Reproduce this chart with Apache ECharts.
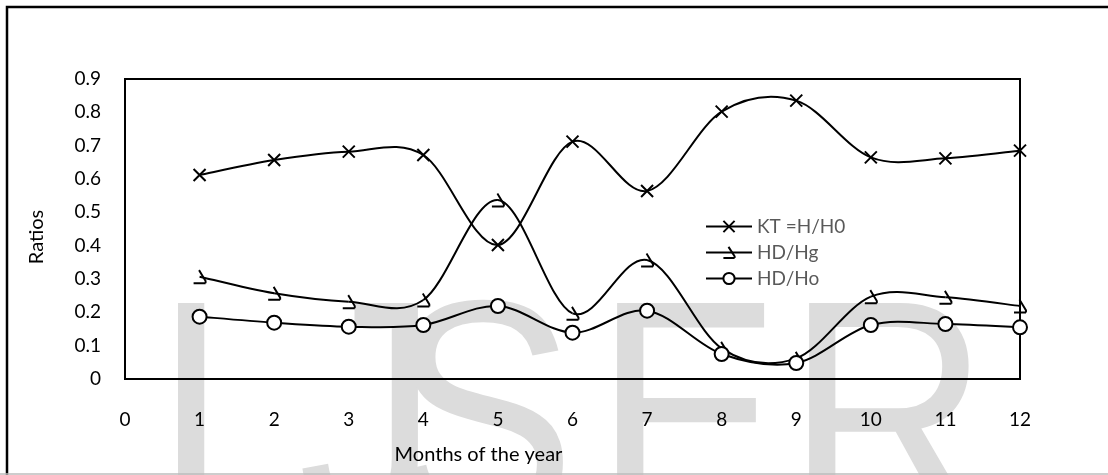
<!DOCTYPE html>
<html>
<head>
<meta charset="utf-8">
<script src="https://cdn.jsdelivr.net/npm/echarts@6/dist/echarts.min.js"></script>
<style>
html,body{margin:0;padding:0;background:#fff;}
#chart{width:1108px;height:475px;}
</style>
</head>
<body>
<div id="chart"></div>
<script>
// ---- data ----
const months = [1, 2, 3, 4, 5, 6, 7, 8, 9, 10, 11, 12];
const ktValues   = [0.612, 0.657, 0.682, 0.672, 0.402, 0.712, 0.564, 0.802, 0.835, 0.665, 0.662, 0.685];
const hdHgValues = [0.307, 0.257, 0.232, 0.237, 0.537, 0.197, 0.357, 0.092, 0.062, 0.247, 0.245, 0.219];
const hdHoValues = [0.187, 0.169, 0.157, 0.162, 0.219, 0.139, 0.205, 0.075, 0.048, 0.162, 0.165, 0.155];
const seriesNames = ['KT =H/H0', 'HD/Hg', 'HD/Ho'];
const xTickLabels = ['0','1','2','3','4','5','6','7','8','9','10','11','12'];
const yTickLabels = ['0','0.1','0.2','0.3','0.4','0.5','0.6','0.7','0.8','0.9'];
const xAxisTitle = 'Months of the year';
const yAxisTitle = 'Ratios';
const watermarkLetters = ['I','J','S','E','R'];

function pairs(vals){ return months.map((m,i)=>[m, vals[i]]); }

const FONT = 'Lato';
const chart = echarts.init(document.getElementById('chart'), null, {renderer:'canvas'});

const crossPath = 'path://M0,0L10,10M10,0L0,10';
const hookPath = 'path://M5,0L11,10L11,12M0,12L11,12';

// Smooth curve (Excel-like cardinal spline) drawn segment by segment through the axis scales
function curveSeries(vals){
  return {
    type:'custom', z:1, silent:true, clip:false,
    data: pairs(vals),
    encode:{x:0, y:1},
    renderItem: function(params, api){
      const i = params.dataIndex, n = vals.length;
      if (i >= n - 1) return null;
      const c = (k)=>{ k = Math.max(0, Math.min(n-1, k)); return api.coord([months[k], vals[k]]); };
      const p0 = c(i-1), p1 = c(i), p2 = c(i+1), p3 = c(i+2);
      const t = 1/6;
      return {
        type:'bezierCurve',
        shape:{
          x1:p1[0], y1:p1[1], x2:p2[0], y2:p2[1],
          cpx1:p1[0] + (p2[0]-p0[0])*t, cpy1:p1[1] + (p2[1]-p0[1])*t,
          cpx2:p2[0] - (p3[0]-p1[0])*t, cpy2:p2[1] - (p3[1]-p1[1])*t
        },
        style:{stroke:'#000', lineWidth:2, fill:null}
      };
    }
  };
}

const wmX = [152, 298, 388, 594, 786];
const wmGraphics = watermarkLetters.map((ch, k)=>({
  type:'text', x:wmX[k], y:275, scaleX:0.88, z:-10, silent:true,
  style:{text:ch, fontFamily:'Liberation Sans', fontSize:320, fill:'#dcdcdc', verticalAlign:'top'}
}));

const option = {
  backgroundColor: '#ffffff',
  animation: false,
  textStyle: {fontFamily: FONT},
  graphic: wmGraphics.concat([
    {type:'rect', shape:{x:7,y:7,width:1300,height:700}, z:-5, silent:true,
     style:{fill:'none', stroke:'#000', lineWidth:2.5}},
    {type:'line', shape:{x1:0,y1:474,x2:1108,y2:474}, z:-5, silent:true,
     style:{stroke:'#bdbdbd', lineWidth:1.5}}
  ]),
  grid: {left:125, top:79, right:88, bottom:96, show:true, borderColor:'#000', borderWidth:2, backgroundColor:'transparent'},
  legend: {
    orient:'vertical', left:700, top:212, itemGap:7, itemWidth:46, itemHeight:14,
    textStyle:{fontFamily:FONT, fontSize:19, color:'#595959'},
    lineStyle:{color:'#000', width:2, opacity:1},
    data: seriesNames
  },
  xAxis: {
    type:'value', min:0, max:12, interval:1,
    axisLine:{show:true, lineStyle:{color:'#000', width:2}},
    axisTick:{show:false}, splitLine:{show:false},
    axisLabel:{margin:31, fontFamily:FONT, fontSize:19, color:'#000',
      formatter:(v)=>xTickLabels[Math.round(v)]},
    name: xAxisTitle, nameLocation:'middle', nameGap:66,
    nameTextStyle:{fontFamily:FONT, fontSize:20, color:'#000', padding:[0,188,0,0]}
  },
  yAxis: {
    type:'value', min:0, max:0.9, interval:0.1,
    axisLine:{show:false}, axisTick:{show:false}, splitLine:{show:false},
    axisLabel:{margin:24, fontFamily:FONT, fontSize:19, color:'#000',
      formatter:(v)=>yTickLabels[Math.round(v*10)]},
    name: yAxisTitle, nameLocation:'middle', nameGap:78, nameRotate:90,
    nameTextStyle:{fontFamily:FONT, fontSize:20, color:'#000', padding:[0,16,0,0]}
  },
  series: [
    curveSeries(ktValues),
    curveSeries(hdHgValues),
    curveSeries(hdHoValues),
    {name:seriesNames[0], type:'line', z:3, data:pairs(ktValues),
     symbol:crossPath, symbolSize:12,
     lineStyle:{color:'#000', width:2, opacity:0},
     itemStyle:{color:'#000', borderColor:'#000', borderWidth:2}},
    {name:seriesNames[1], type:'line', z:3, data:pairs(hdHgValues),
     symbol:hookPath, symbolSize:[12,13],
     lineStyle:{color:'#000', width:2, opacity:0},
     itemStyle:{color:'none', borderColor:'#000', borderWidth:2}},
    {name:seriesNames[2], type:'line', z:3, data:pairs(hdHoValues),
     symbol:'circle', symbolSize:14,
     lineStyle:{color:'#000', width:2, opacity:0},
     itemStyle:{color:'#fff', borderColor:'#000', borderWidth:2}}
  ]
};
chart.setOption(option);
</script>
</body>
</html>
